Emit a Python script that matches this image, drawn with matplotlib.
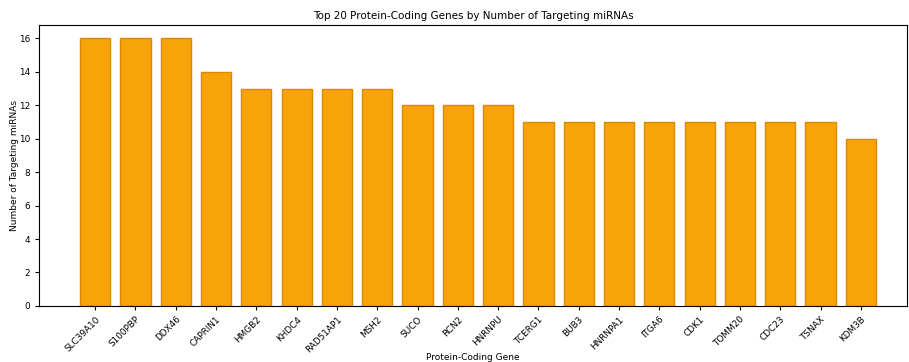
import matplotlib
matplotlib.use("Agg")
import matplotlib.pyplot as plt

# ---------------------------
# DATA
# ---------------------------
genes = ["SLC39A10", "S100PBP", "DDX46", "CAPRIN1", "HMGB2", "KHDC4", "RAD51AP1",
         "MSH2", "SUCO", "RCN2", "HNRNPU", "TCERG1", "BUB3", "HNRNPA1", "ITGA6",
         "CDK1", "TOMM20", "CDC23", "TSNAX", "KDM3B"]
counts = [16, 16, 16, 14, 13, 13, 13, 13, 12, 12, 12, 11, 11, 11, 11, 11, 11, 11, 11, 10]

# ---------------------------
# PLOT
# ---------------------------
fig = plt.figure(figsize=(9.09, 3.62), dpi=100)
ax = fig.add_axes([0.043, 0.155, 0.955, 0.776])

x = range(len(genes))
ax.bar(x, counts, width=0.75, color="#f9a30b", edgecolor="#d98a00", linewidth=1)

ax.set_xticks(list(x))
ax.set_xticklabels(genes, rotation=45, ha="right", rotation_mode="anchor", fontsize=6.4)
ax.tick_params(axis="y", labelsize=6.4)
ax.tick_params(length=2.8)
ax.set_xlim(-1.39, 20.15)
ax.set_ylim(0, 16.8)
ax.set_yticks(range(0, 17, 2))

ax.set_title("Top 20 Protein-Coding Genes by Number of Targeting miRNAs", fontsize=7.5, pad=4)
ax.set_xlabel("Protein-Coding Gene", fontsize=6.5, labelpad=-1)
ax.set_ylabel("Number of Targeting miRNAs", fontsize=6.5, labelpad=0)

fig.savefig("out.png", dpi=100)
